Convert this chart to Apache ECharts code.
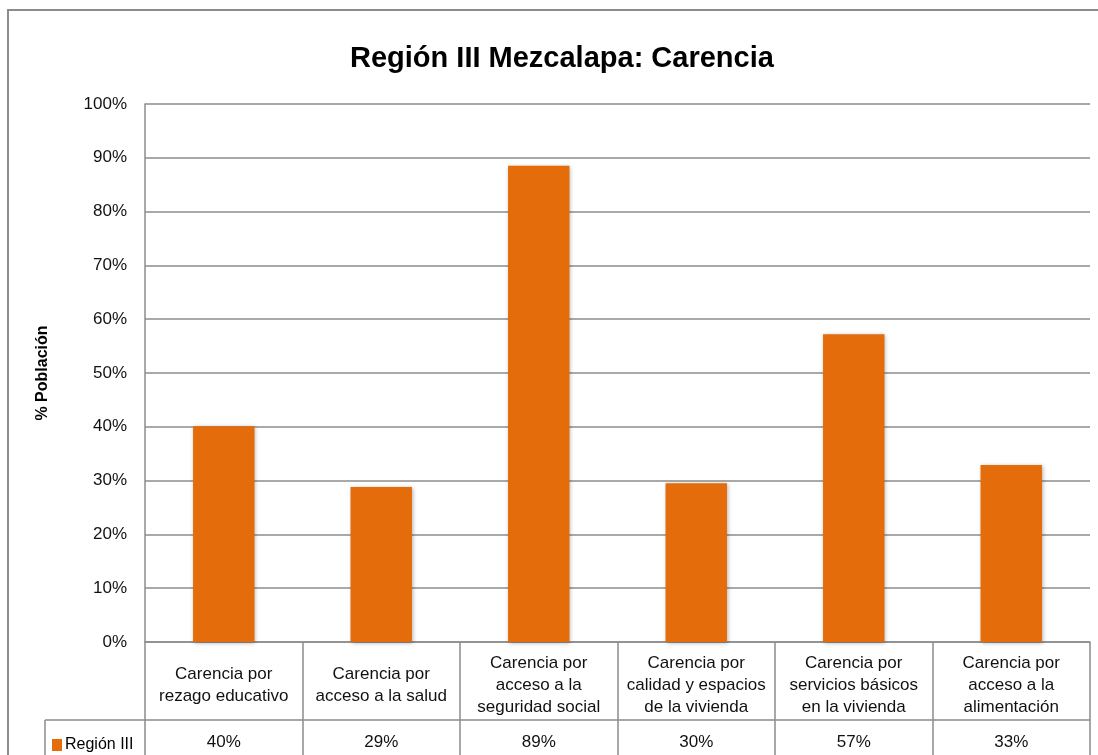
<!DOCTYPE html>
<html>
<head>
<meta charset="utf-8">
<script src="https://cdn.jsdelivr.net/npm/echarts@6/dist/echarts.min.js"></script>
<style>
html,body{margin:0;padding:0;background:#fff;}
#main{width:1098px;height:755px;}
</style>
</head>
<body>
<div id="main"></div>
<script>
const categories = [
  'Carencia por\nrezago educativo',
  'Carencia por\nacceso a la salud',
  'Carencia por\nacceso a la\nseguridad social',
  'Carencia por\ncalidad y espacios\nde la vivienda',
  'Carencia por\nservicios básicos\nen la vivienda',
  'Carencia por\nacceso a la\nalimentación'
];
const values = [40.1, 28.8, 88.5, 29.5, 57.2, 32.9];
const tableLabels = ['40%', '29%', '89%', '30%', '57%', '33%'];
const seriesName = 'Región III';
const yTicks = [0, 10, 20, 30, 40, 50, 60, 70, 80, 90, 100];

const FONT = '"Liberation Sans", Arial, sans-serif';
const GRAY = '#8c8c8c';
const ORANGE = '#E46C0A';

const chart = echarts.init(document.getElementById('main'));
chart.setOption({
  backgroundColor: '#fff',
  animation: false,
  textStyle: { fontFamily: FONT },
  title: {
    text: 'Región III Mezcalapa: Carencia',
    left: 345,
    top: 39,
    textStyle: { fontFamily: FONT, fontSize: 29, fontWeight: 'bold', color: '#000' }
  },
  legend: {
    left: 47,
    top: 732,
    icon: 'rect',
    itemWidth: 10,
    itemHeight: 12,
    itemGap: 4,
    data: [seriesName],
    textStyle: { fontFamily: FONT, fontSize: 16, color: '#000', padding: [0, 0, 0, -2] }
  },
  grid: { left: 145, right: 8, top: 104, bottom: 113, containLabel: false },
  xAxis: [
    {
      type: 'category',
      data: categories,
      position: 'bottom',
      axisLine: { show: true, lineStyle: { color: GRAY, width: 1.5 } },
      axisTick: { show: true, interval: 0, length: 120, lineStyle: { color: GRAY, width: 1.5 } },
      axisLabel: {
        interval: 0,
        margin: 43,
        verticalAlign: 'middle',
        lineHeight: 22,
        fontSize: 17,
        color: '#111',
        fontFamily: FONT
      },
      splitLine: { show: false }
    },
    {
      type: 'category',
      data: tableLabels,
      position: 'bottom',
      offset: 78,
      axisLine: { show: true, lineStyle: { color: GRAY, width: 1.5 } },
      axisTick: { show: false },
      axisLabel: {
        interval: 0,
        margin: 22,
        verticalAlign: 'middle',
        fontSize: 17,
        color: '#111',
        fontFamily: FONT
      },
      splitLine: { show: false }
    }
  ],
  yAxis: {
    type: 'value',
    min: yTicks[0],
    max: yTicks[yTicks.length - 1],
    interval: 10,
    name: '% Población',
    nameLocation: 'middle',
    nameRotate: 90,
    nameGap: 94,
    nameTextStyle: { fontFamily: FONT, fontSize: 16, fontWeight: 'bold', color: '#000' },
    axisLine: { show: true, lineStyle: { color: GRAY, width: 1.5 } },
    axisTick: { show: false },
    axisLabel: { formatter: '{value}%', margin: 18, fontSize: 17, color: '#111', fontFamily: FONT },
    splitLine: { show: true, lineStyle: { color: GRAY, width: 1.5 } }
  },
  series: [{
    name: seriesName,
    type: 'bar',
    xAxisIndex: 0,
    data: values,
    barWidth: '39%',
    itemStyle: {
      color: ORANGE,
      shadowBlur: 4,
      shadowColor: 'rgba(0,0,0,0.3)',
      shadowOffsetX: 1,
      shadowOffsetY: 1
    }
  }],
  graphic: [
    { type: 'rect', z: -1, shape: { x: 8, y: 10, width: 1200, height: 900 }, style: { fill: 'none', stroke: GRAY, lineWidth: 2 } },
    { type: 'line', shape: { x1: 45, y1: 720, x2: 145, y2: 720 }, style: { stroke: GRAY, lineWidth: 1.5 } },
    { type: 'line', shape: { x1: 45, y1: 720, x2: 45, y2: 760 }, style: { stroke: GRAY, lineWidth: 1.5 } }
  ]
});
</script>
</body>
</html>
